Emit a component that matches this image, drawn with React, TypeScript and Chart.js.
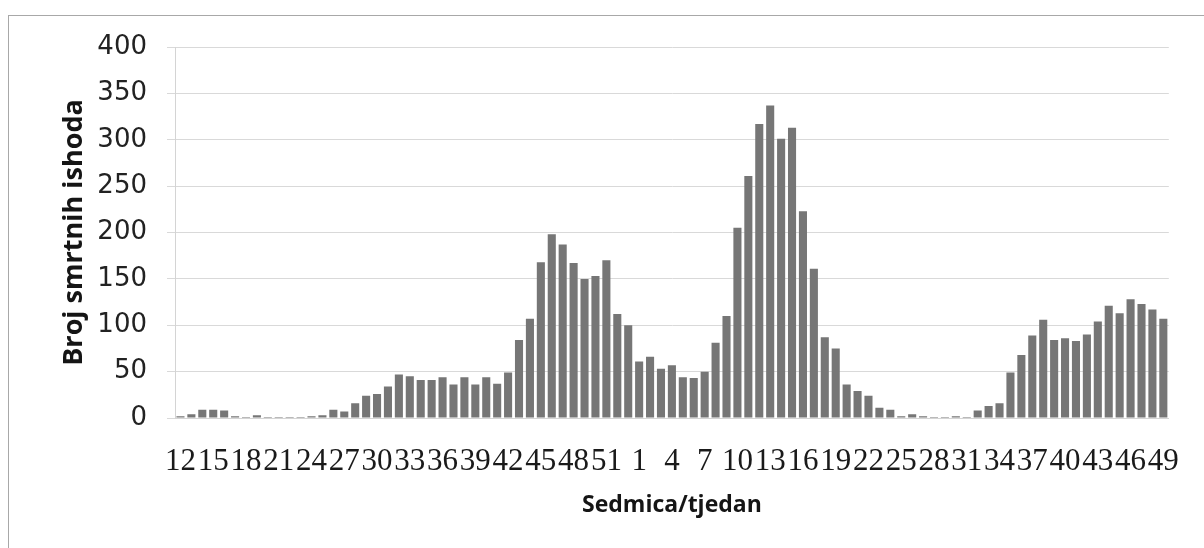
import { useEffect, useRef } from "react";
import { Chart, registerables } from "chart.js";

Chart.register(...registerables);

// ISO weeks: 2020 w12..w53, then 2021 w1..w49
const weekLabels: string[] = [
  "12", "13", "14", "15", "16", "17", "18", "19", "20", "21", "22", "23", "24", "25",
  "26", "27", "28", "29", "30", "31", "32", "33", "34", "35", "36", "37", "38", "39",
  "40", "41", "42", "43", "44", "45", "46", "47", "48", "49", "50", "51", "52", "53",
  "1", "2", "3", "4", "5", "6", "7", "8", "9", "10", "11", "12", "13", "14", "15",
  "16", "17", "18", "19", "20", "21", "22", "23", "24", "25", "26", "27", "28", "29",
  "30", "31", "32", "33", "34", "35", "36", "37", "38", "39", "40", "41", "42", "43",
  "44", "45", "46", "47", "48", "49",
];

const deaths: number[] = [
  2, 4, 9, 9, 8, 2, 1, 3, 1, 1, 1, 1, 2, 3,
  9, 7, 16, 24, 26, 34, 47, 45, 41, 41, 44, 36, 44, 36,
  44, 37, 49, 84, 107, 168, 198, 187, 167, 150, 153, 170, 112, 100,
  61, 66, 53, 57, 44, 43, 50, 81, 110, 205, 261, 317, 337, 301, 313,
  223, 161, 87, 75, 36, 29, 24, 11, 9, 2, 4, 2, 1, 1,
  2, 1, 8, 13, 16, 49, 68, 89, 106, 84, 86, 83, 90, 104,
  121, 113, 128, 123, 117, 107,
];

const yMin = 0;
const yMax = 400;
const yStep = 50;
const labelEvery = 3;
const yAxisTitle = "Broj smrtnih ishoda";
const xAxisTitle = "Sedmica/tjedan";

export default function App() {
  const canvasRef = useRef<HTMLCanvasElement>(null);

  useEffect(() => {
    const canvas = canvasRef.current;
    if (!canvas) return;
    const chart = new Chart(canvas, {
      type: "bar",
      data: {
        labels: weekLabels,
        datasets: [
          {
            data: deaths,
            backgroundColor: "#767676",
            borderWidth: 0,
            categoryPercentage: 1,
            barPercentage: 0.74,
          },
        ],
      },
      options: {
        animation: false,
        responsive: false,
        devicePixelRatio: 1,
        layout: { padding: { left: 10, right: 29, top: 47, bottom: 0 } },
        plugins: {
          legend: { display: false },
          tooltip: { enabled: false },
        },
        scales: {
          x: {
            grid: { display: false, drawTicks: false },
            border: { display: true, color: "#d4d4d4" },
            ticks: {
              autoSkip: false,
              maxRotation: 0,
              minRotation: 0,
              padding: 25,
              color: "#1a1a1a",
              font: { family: "Liberation Serif", size: 31 },
              callback: (_v: any, i: number) => (i % labelEvery === 0 ? weekLabels[i] : ""),
            },
            title: {
              display: true,
              text: xAxisTitle,
              color: "#151515",
              font: { family: "Open Sans", size: 23, weight: "bold" },
              padding: { top: 0, bottom: 29 },
            },
            afterFit: (s: any) => {
              s.height = 130;
            },
          },
          y: {
            min: yMin,
            max: yMax,
            ticks: {
              stepSize: yStep,
              padding: 20,
              color: "#222222",
              font: { family: "DejaVu Sans", size: 26 },
            },
            grid: { color: "#d9d9d9", lineWidth: 1, tickLength: 8 },
            border: { display: true, color: "#d4d4d4" },
            title: {
              display: true,
              text: yAxisTitle,
              color: "#151515",
              font: { family: "Open Sans", size: 27, weight: "bold" },
              padding: { top: 48, bottom: 0 },
            },
            afterFit: (s: any) => {
              s.width = 165;
            },
          },
        },
      },
    } as any);
    return () => chart.destroy();
  }, []);

  return (
    <div
      style={{
        position: "absolute",
        left: 0,
        top: 0,
        width: 1204,
        height: 548,
        background: "#ffffff",
        overflow: "hidden",
      }}
    >
      <div
        style={{
          position: "absolute",
          left: 8,
          top: 15,
          width: 1220,
          height: 600,
          border: "1px solid #a8a8a8",
        }}
      />
      <canvas
        ref={canvasRef}
        width={1204}
        height={548}
        style={{ position: "absolute", left: 0, top: 0, width: 1204, height: 548 }}
      />
    </div>
  );
}
